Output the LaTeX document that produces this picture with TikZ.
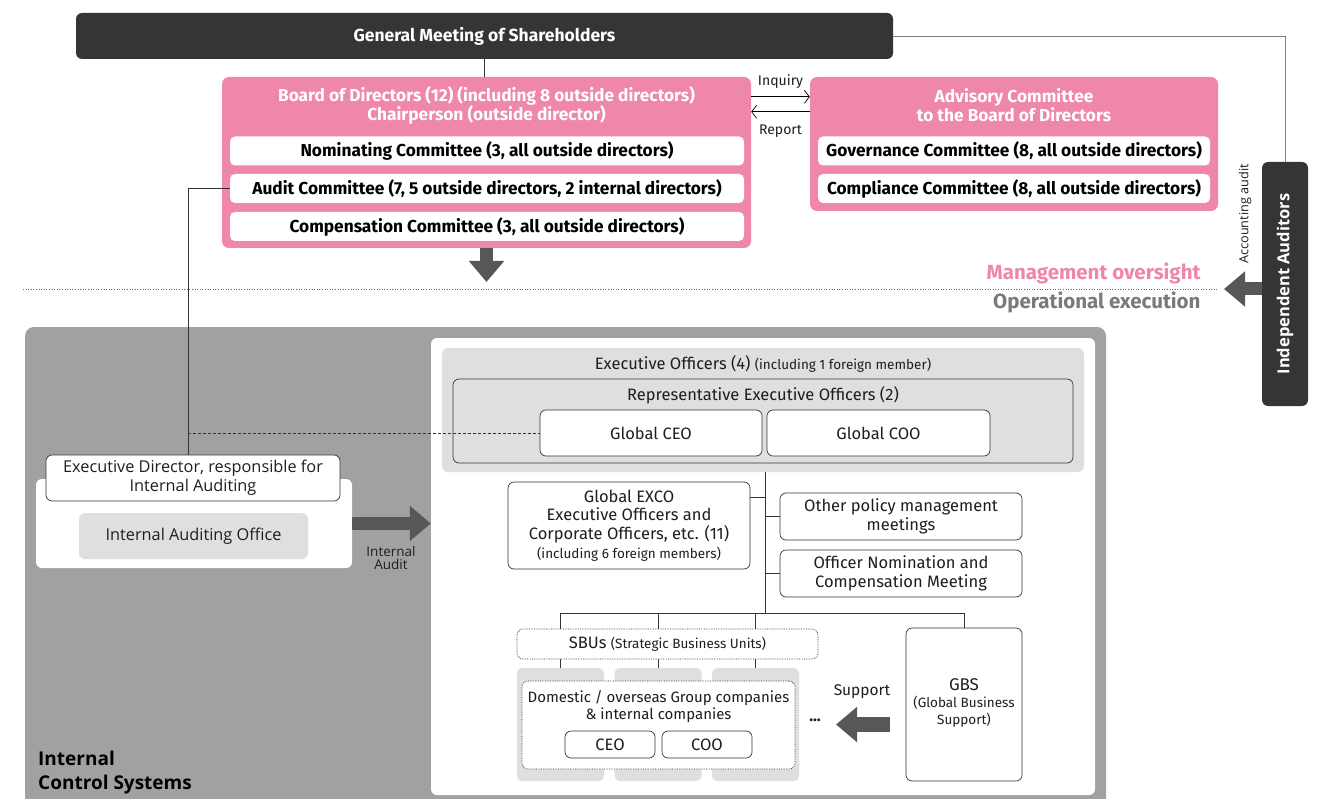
\documentclass[tikz,border=0pt]{standalone}
\usepackage{fontspec}
\setmainfont{Fira Sans}
\newfontfamily\widefont{Open Sans}
\usetikzlibrary{arrows.meta,positioning}

\definecolor{darkbox}{HTML}{353535}
\definecolor{boardpink}{HTML}{EE87A8}
\definecolor{ctrlgray}{HTML}{A0A2A1}
\definecolor{panelgray}{HTML}{DEDFDE}
\definecolor{arrowgray}{HTML}{595657}
\definecolor{execgray}{HTML}{7A7A7A}
\definecolor{inktext}{HTML}{1E1E1E}

\newcommand\smallnote{\fontsize{13.5}{16}\selectfont}

\begin{document}
\begin{tikzpicture}[
    x=1pt, y=-1pt,
    dark box/.style={rectangle, rounded corners=6pt, fill=darkbox, inner sep=0pt},
    pink box/.style={rectangle, rounded corners=7pt, fill=boardpink, inner sep=0pt},
    pink title/.style={align=center, text=white, font=\bfseries\fontsize{17.3}{19}\selectfont},
    comm node/.style={rectangle, rounded corners=5pt, fill=white, inner sep=0pt, minimum height=29pt, font=\bfseries\fontsize{17.3}{19}\selectfont},
    exec node/.style={rectangle, rounded corners=6pt, draw=darkbox, line width=0.7pt, fill=white, inner sep=0pt, align=center, text=inktext, font=\fontsize{16.5}{18.7}\selectfont},
    gray panel/.style={rectangle, rounded corners=6pt, fill=panelgray, inner sep=0pt},
    plain text/.style={text=inktext, font=\fontsize{16.5}{19}\selectfont},
    link/.style={draw=darkbox, line width=0.8pt},
    thin arrow/.style={draw=black, line width=0.7pt, -{Straight Barb[length=5pt,width=13pt]}},
    fat arrow/.style={draw=arrowgray, line width=13pt, -{Triangle[width=34pt,length=21pt]}}
]
\useasboundingbox (0,0) rectangle (1321,799);

% shareholders and board
\node[dark box, minimum width=817, minimum height=46, text=white, font=\bfseries\fontsize{17.5}{19}\selectfont] (gm) at (484.5,36) {General Meeting of Shareholders};

\node[pink box, minimum width=529, minimum height=171] (board) at (486.5,162.5) {};
\node[pink title] (boardtitle) at (486.5,105.5) {Board of Directors (12) (including 8 outside directors)\\Chairperson (outside director)};
\node[comm node, minimum width=514] (nomin) at (487,151) {Nominating Committee (3, all outside directors)};
\node[comm node, minimum width=514] (audit) at (487,188.5) {Audit Committee (7, 5 outside directors, 2 internal directors)};
\node[comm node, minimum width=514] (compen) at (487,226.5) {Compensation Committee (3, all outside directors)};

\node[pink box, minimum width=408, minimum height=134] (advis) at (1014,144) {};
\node[pink title] (advistitle) at (1014,105.5) {Advisory Committee\\to the Board of Directors};
\node[comm node, minimum width=392] (govern) at (1014,151) {Governance Committee (8, all outside directors)};
\node[comm node, minimum width=392] (complian) at (1014,188.5) {Compliance Committee (8, all outside directors)};

\draw[thin arrow] ([yshift=-20pt]board.north east) -- node[above=5pt, plain text, font=\fontsize{14}{16}\selectfont] {Inquiry} ([yshift=-20pt]advis.north west);
\draw[thin arrow] ([yshift=-35pt]advis.north west) -- node[below=9pt, plain text, font=\fontsize{14}{16}\selectfont] {Report} ([yshift=-35pt]board.north east);

% independent auditors
\node[dark box, minimum width=46, minimum height=244] (indep) at (1285,284) {};
\node[rotate=90, text=white, font=\widefont\bfseries\fontsize{16.5}{18}\selectfont] (indeptext) at (indep.center) {Independent Auditors};
\node[rotate=90, plain text, font=\widefont\fontsize{12.7}{14}\selectfont] (acctaudit) at (1245,214) {Accounting audit};

\draw[link] (gm.south) -- (gm.south |- board.north);
\draw[link, draw=black!50] (gm.east) -| (indep.north);

% oversight / execution boundary
\draw[dotted, draw=black!60, line width=0.6pt] (23,289) -- (1217,289);
\node[anchor=east, text=boardpink, font=\bfseries\fontsize{20.5}{22}\selectfont] (oversight) at (1204,273) {Management oversight};
\node[anchor=east, text=execgray, font=\bfseries\fontsize{20.5}{22}\selectfont] (execution) at (1204,302) {Operational execution};

\coordinate (boardtip) at (486.5,282);
\draw[fat arrow] (board.south) -- (boardtip);
\coordinate (auditortip) at (1224,289);
\draw[fat arrow] (indep.west |- auditortip) -- (auditortip);

% internal control systems
\node[rectangle, rounded corners=9pt, fill=ctrlgray, minimum width=1081, minimum height=500] (control) at (565.5,577) {};
\node[rectangle, rounded corners=6pt, fill=white, minimum width=664, minimum height=457] (execarea) at (763,566.5) {};
\node[anchor=north west, align=left, text=black, inner sep=0pt, font=\widefont\bfseries\fontsize{19}{24}\selectfont] (ctrltitle) at (38,751) {Internal\\Control Systems};

% internal auditing
\node[rectangle, rounded corners=6pt, fill=white, minimum width=316, minimum height=89] (auditpanel) at (194,523.5) {};
\node[exec node, minimum width=294, minimum height=46, font=\widefont\fontsize{16.3}{19}\selectfont] (execdir) at (193,478) {Executive Director, responsible for\\Internal Auditing};
\node[gray panel, minimum width=229, minimum height=46, text=inktext, font=\widefont\fontsize{16.3}{19}\selectfont] (iao) at (193.5,536) {Internal Auditing Office};

\draw[fat arrow] (auditpanel.east) -- (auditpanel.east -| execarea.west);
\node[align=center, plain text, font=\widefont\fontsize{13.5}{13}\selectfont] (auditlabel) at (391,558) {Internal\\Audit};

% executive officers
\node[gray panel, minimum width=642, minimum height=124] (officers) at (763,410) {};
\node[plain text] (officerstitle) at (763,364) {Executive Officers (4) {\smallnote (including 1 foreign member)}};
\node[rectangle, rounded corners=6pt, draw=darkbox, line width=0.7pt, fill=panelgray, minimum width=620, minimum height=84] (repoff) at (763,421) {};
\node[plain text] (reptitle) at (763,395) {Representative Executive Officers (2)};
\node[exec node, minimum width=222, minimum height=46] (gceo) at (651,433) {Global CEO};
\node[exec node, minimum width=223, minimum height=46] (gcoo) at (878.5,433) {Global COO};

\draw[link] (audit.west) -| ([xshift=-5pt]execdir.north);
\draw[link, dash pattern=on 3pt off 2pt] ([xshift=-5pt]execdir.north |- gceo.west) -- (gceo.west);

% meetings
\node[exec node, minimum width=242, minimum height=87] (exco) at (629,525.5) {Global EXCO\\Executive Officers and\\Corporate Officers, etc. (11)\\{\smallnote (including 6 foreign members)}};
\node[exec node, minimum width=242, minimum height=47] (otherpol) at (901,516.5) {Other policy management\\meetings};
\node[exec node, minimum width=242, minimum height=47] (offnom) at (901,573.5) {Officer Nomination and\\Compensation Meeting};

\coordinate (trunktop) at ([xshift=2pt]officers.south);
\coordinate (trunkbot) at (765,613);
\draw[link] (trunktop) -- (trunkbot);
\draw[link] ([yshift=28pt]exco.east) -- ([yshift=28pt]exco.east -| trunktop);
\draw[link] (otherpol.west) -- (otherpol.west -| trunktop);
\draw[link] (offnom.west) -- (offnom.west -| trunktop);

% business units
\foreach \name/\cx in {unitA/560.5, unitB/658, unitC/755.5}
  \node[gray panel, rounded corners=5pt, minimum width=87, minimum height=113] (\name) at (\cx,724.5) {};
\node[exec node, densely dotted, minimum width=301, minimum height=30] (sbu) at (667.5,644) {SBUs {\smallnote (Strategic Business Units)}};
\node[exec node, densely dotted, minimum width=273, minimum height=88] (groupco) at (658.5,725) {};
\node[plain text, align=center, font=\fontsize{15}{17}\selectfont] (grouptitle) at (658.5,706.5) {Domestic / overseas Group companies\\\& internal companies};
\node[exec node, minimum width=90, minimum height=27] (ceo) at (610,744.5) {CEO};
\node[exec node, minimum width=90, minimum height=27] (coo) at (707,744.5) {COO};
\node[exec node, minimum width=116, minimum height=153] (gbs) at (964,704.5) {};
\node[plain text, align=center, font=\fontsize{17}{17}\selectfont] (gbstext) at (964,703) {GBS\\{\smallnote (Global Business}\\{\smallnote Support)}};

\draw[link] (unitA.north |- trunkbot) -- (gbs.north |- trunkbot);
\foreach \name in {unitA,unitB,unitC} {
  \draw[link] (\name.north |- trunkbot) -- (\name.north |- sbu.north);
  \draw[link] (\name.north |- sbu.south) -- (\name.north);
}
\draw[link] (gbs.north |- trunkbot) -- (gbs.north);

% support
\node[plain text, font=\fontsize{15.5}{18}\selectfont] (supportlabel) at (862,692) {Support};
\node[plain text, font=\bfseries\fontsize{16}{18}\selectfont] (moreunits) at (815,720) {...};
\coordinate (supportfrom) at (890,724.5);
\coordinate (supportto) at (836,724.5);
\draw[fat arrow, line width=15pt] (supportfrom) -- (supportto);

\end{tikzpicture}
\end{document}
